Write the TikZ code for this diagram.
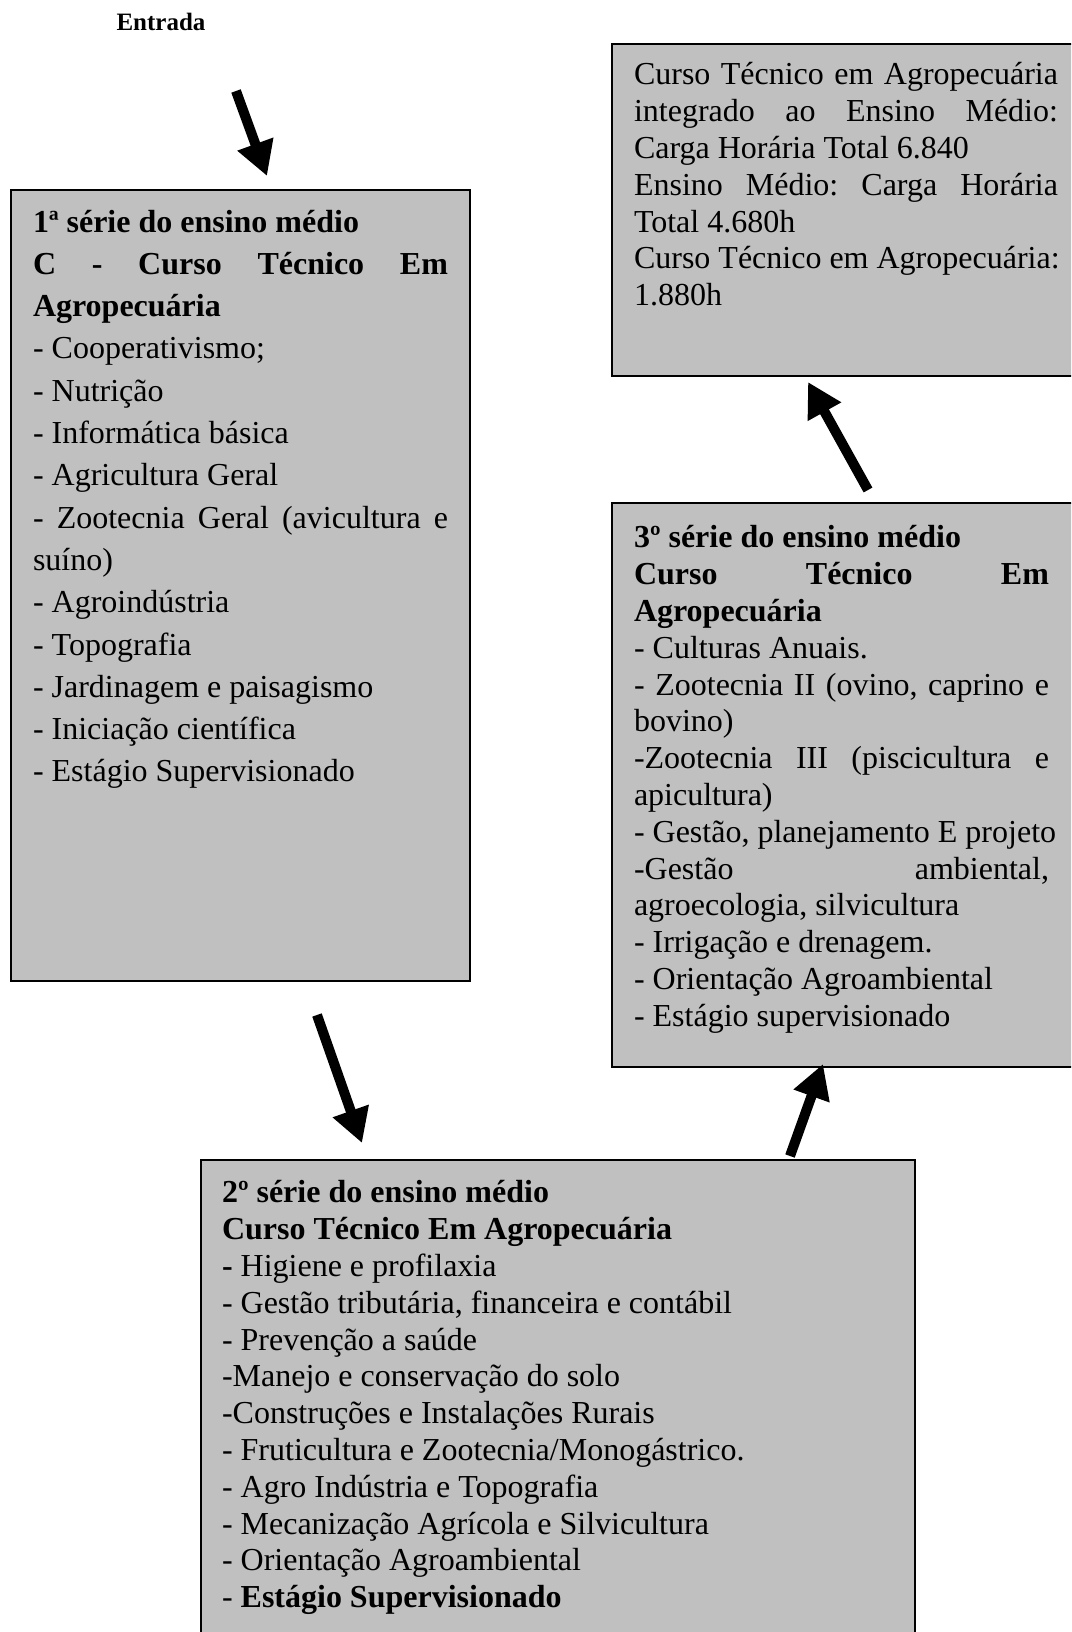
\documentclass[tikz,border=0pt]{standalone}
\usepackage{fontspec}
\setmainfont{Liberation Serif}
\usetikzlibrary{arrows.meta}
\definecolor{boxgray}{HTML}{C0C0C0}
\frenchspacing
\newcommand\J[2][415pt]{\makebox[#1][s]{\spaceskip=.25em plus 20em\xspaceskip=0pt\relax #2}}
\newcommand\ns{\spaceskip=0pt\xspaceskip=0pt\relax}
\begin{document}
\begin{tikzpicture}[x=1pt,y=1pt,
  panel/.style={draw=black, line width=1.6pt, fill=boxgray, inner sep=0pt, outer sep=0pt, anchor=north west},
  txt/.style={anchor=north west, inner sep=0pt, outer sep=0pt, align=left, text width=700pt, font=\fontsize{32}{36.8}\selectfont},
  bigarrow/.style={line width=10pt, -{Triangle[width=36pt,length=34pt]}}]
\useasboundingbox (0,0) rectangle (1071,-1632);
\clip (0,0) rectangle (1071,-1632);
% panels
\node[panel, minimum width=459pt, minimum height=791pt] (b1) at (11,-190) {};
\node[panel, minimum width=475pt, minimum height=332pt] (bt) at (612,-44) {};
\node[panel, minimum width=475pt, minimum height=564pt] (b3) at (612,-503) {};
\node[panel, minimum width=714pt, minimum height=500pt] (b2) at (201,-1160) {};
% title
\node[inner sep=0pt, font=\bfseries\fontsize{25}{30}\selectfont] (entrada) at (161,-22) {Entrada};
% texts
\node[txt, font=\fontsize{32}{42.3}\selectfont] (t1) at (33,-202.4) {\ns
\strut\textbf{1ª série do ensino médio}\\
\J{\bfseries C - Curso Técnico Em}\\
\textbf{Agropecuária}\\
- Cooperativismo;\\
- Nutrição\\
- Informática básica\\
- Agricultura Geral\\
\J{- Zootecnia Geral (avicultura e}\\
suíno)\\
- Agroindústria\\
- Topografia\\
- Jardinagem e paisagismo\\
- Iniciação científica\\
- Estágio Supervisionado};
\node[txt] (tt) at (634,-59.2) {\ns
\strut\J[424pt]{Curso Técnico em Agropecuária}\\
\J[424pt]{integrado ao Ensino Médio:}\\
Carga Horária Total 6.840\\
\J[424pt]{Ensino Médio: Carga Horária}\\
Total 4.680h\\
Curso Técnico em Agropecuária:\\
1.880h};
\node[txt] (t3) at (634,-522.2) {\ns
\strut\textbf{3º série do ensino médio}\\
\J{\bfseries Curso Técnico Em}\\
\textbf{Agropecuária}\\
- Culturas Anuais.\\
\J{- Zootecnia II (ovino, caprino e}\\
bovino)\\
\J{-Zootecnia III (piscicultura e}\\
apicultura)\\
\J{- Gestão, planejamento E projeto}\\
\J{-Gestão ambiental,}\\
agroecologia, silvicultura\\
- Irrigação e drenagem.\\
- Orientação Agroambiental\\
- Estágio supervisionado};
\node[txt] (t2) at (222,-1177.2) {\ns
\strut\textbf{2º série do ensino médio}\\
\textbf{Curso Técnico Em Agropecuária}\\
\textbf{-} Higiene e profilaxia\\
- Gestão tributária, financeira e contábil\\
- Prevenção a saúde\\
-Manejo e conservação do solo\\
-Construções e Instalações Rurais\\
- Fruticultura e Zootecnia/Monogástrico.\\
- Agro Indústria e Topografia\\
- Mecanização Agrícola e Silvicultura\\
- Orientação Agroambiental\\
- \textbf{Estágio Supervisionado}};
% arrow ends
\coordinate (a1s) at (236,-91);
\coordinate (a1e) at (267,-176);
\coordinate (a2s) at (868,-490);
\coordinate (a2e) at (808,-382);
\coordinate (a3s) at (317,-1015);
\coordinate (a3e) at (362,-1143);
\coordinate (a4s) at (790,-1156);
\coordinate (a4e) at (823,-1064);
\draw[bigarrow] (a1s) -- (a1e);
\draw[bigarrow] (a2s) -- (a2e);
\draw[bigarrow] (a3s) -- (a3e);
\draw[bigarrow] (a4s) -- (a4e);
\end{tikzpicture}
\end{document}
